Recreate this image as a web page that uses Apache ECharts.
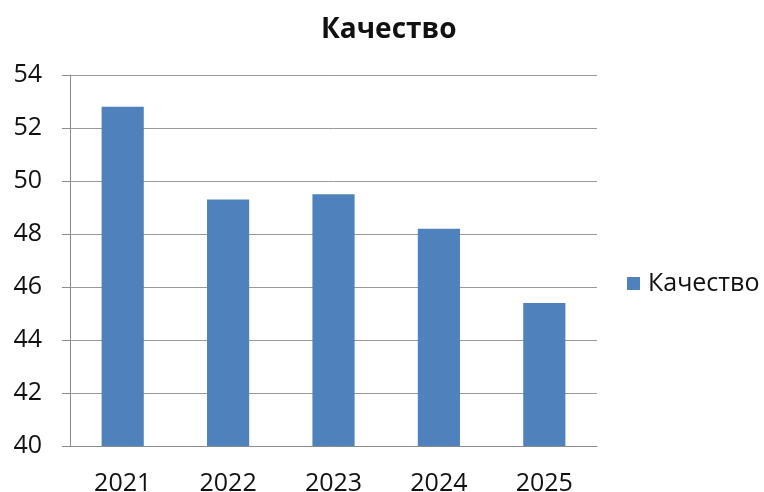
<!DOCTYPE html>
<html>
<head>
<meta charset="utf-8">
<script src="https://cdn.jsdelivr.net/npm/echarts@6/dist/echarts.min.js"></script>
<style>html,body{margin:0;padding:0;background:#fff;}#c{width:764px;height:492px;}</style>
</head>
<body>
<div id="c"></div>
<script>
const categories = ['2021', '2022', '2023', '2024', '2025'];
const seriesName = 'Качество';
const values = [52.8, 49.3, 49.5, 48.2, 45.4];
const titleText = 'Качество';

const chart = echarts.init(document.getElementById('c'));
const font = 'Open Sans';
chart.setOption({
  animation: false,
  backgroundColor: '#fff',
  title: {
    text: titleText,
    left: 316, top: 11,
    textStyle: { fontFamily: font, fontSize: 28, fontWeight: 'bold', color: '#111' }
  },
  legend: {
    data: [seriesName],
    left: 622, top: 266,
    icon: 'rect', itemWidth: 13, itemHeight: 13, itemGap: 8,
    textStyle: { fontFamily: font, fontSize: 25, color: '#111', padding: [0, 0, 0, 3] }
  },
  grid: { left: 70, right: 167, top: 75, bottom: 46, containLabel: false, outerBoundsMode: 'none' },
  xAxis: {
    type: 'category',
    data: categories,
    axisLine: { lineStyle: { color: '#8c8c8c' } },
    axisTick: { length: 8, lineStyle: { color: '#8c8c8c' } },
    axisLabel: { fontFamily: font, fontSize: 25, color: '#111', margin: 25 }
  },
  yAxis: {
    type: 'value',
    min: 40, max: 54, interval: 2,
    axisLine: { show: true, lineStyle: { color: '#8c8c8c' } },
    axisTick: { show: true, length: 8, lineStyle: { color: '#8c8c8c' } },
    axisLabel: { fontFamily: font, fontSize: 25, color: '#111', margin: 28 },
    splitLine: { lineStyle: { color: '#9a9a9a' } }
  },
  series: [{
    name: seriesName,
    type: 'bar',
    data: values,
    barWidth: '40%',
    itemStyle: { color: '#4f81bd' }
  }]
});
</script>
</body>
</html>
